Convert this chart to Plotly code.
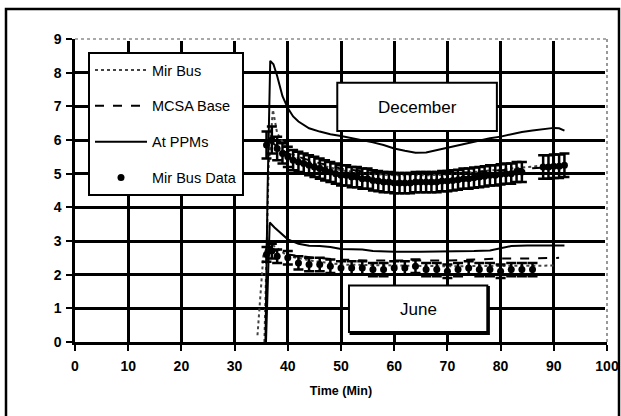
import plotly.graph_objects as go

# ---------------- data ----------------
# December
dec_ppm_x = [35.8, 36.2, 36.7, 37.3, 38.0, 39.0, 40.0, 41.0, 42.0, 44.0, 46.0, 48.0, 50.0, 52.0, 54.0, 56.0,
             58.0, 60.0, 62.0, 64.0, 66.0, 68.0, 70.0, 72.0, 74.0, 76.0, 78.0, 80.0, 82.0, 84.0, 86.0,
             88.0, 90.0, 91.0, 92.0]
dec_ppm_y = [0.0, 4.5, 8.35, 8.25, 7.9, 7.3, 6.95, 6.7, 6.55, 6.35, 6.25, 6.17, 6.12, 6.06, 6.0, 5.93,
             5.85, 5.75, 5.68, 5.62, 5.63, 5.7, 5.78, 5.85, 5.92, 6.0, 6.05, 6.1, 6.18, 6.24, 6.28,
             6.32, 6.36, 6.35, 6.28]

dec_mir_x = [35.6, 36.4, 37.2, 38.0, 40.0, 42.0, 45.0, 50.0, 55.0, 60.0, 65.0, 70.0, 75.0, 80.0, 85.0, 88.0, 92.0]
dec_mir_y = [0.0, 5.2, 6.9, 6.2, 5.7, 5.45, 5.3, 5.1, 5.0, 4.95, 4.95, 4.97, 5.05, 5.12, 5.2, 5.25, 5.3]

dec_mcsa_x = [36.5, 38.0, 40.0, 45.0, 50.0, 55.0, 60.0, 65.0, 70.0, 75.0, 80.0, 85.0, 88.0, 92.0]
dec_mcsa_y = [6.0, 5.8, 5.6, 5.35, 5.15, 5.05, 4.98, 4.98, 5.0, 5.05, 5.1, 5.15, 5.2, 5.22]

dec_data_x = [36, 37, 38, 39, 40, 41, 42, 43, 44, 45, 46, 47, 48, 49, 50, 51, 52, 53, 54, 55, 56, 57, 58, 59,
              60, 61, 62, 63, 64, 65, 66, 67, 68, 69, 70, 71, 72, 73, 74, 75, 76, 77, 78, 79, 80, 81, 82,
              83, 84, 88, 89, 90, 91, 92]
dec_data_y = [5.85, 6.0, 5.75, 5.6, 5.5, 5.4, 5.35, 5.3, 5.25, 5.2, 5.15, 5.1, 5.05, 5.0, 4.95, 4.95, 4.9,
              4.9, 4.85, 4.85, 4.8, 4.78, 4.75, 4.75, 4.72, 4.72, 4.72, 4.72, 4.75, 4.75, 4.75, 4.75, 4.75,
              4.78, 4.78, 4.8, 4.82, 4.85, 4.85, 4.88, 4.9, 4.92, 4.95, 4.95, 4.98, 5.0, 5.0, 5.05, 5.05,
              5.2, 5.2, 5.22, 5.22, 5.25]
dec_data_err = [0.4, 0.4, 0.35, 0.3, 0.3, 0.3, 0.3, 0.3, 0.3, 0.3, 0.3, 0.3, 0.3, 0.3, 0.3, 0.3, 0.3,
                0.3, 0.3, 0.3, 0.3, 0.3, 0.3, 0.3, 0.3, 0.3, 0.3, 0.3, 0.3, 0.3, 0.3, 0.3, 0.3,
                0.3, 0.3, 0.3, 0.3, 0.3, 0.3, 0.3, 0.3, 0.3, 0.3, 0.3, 0.3, 0.3, 0.3, 0.3, 0.3,
                0.35, 0.35, 0.35, 0.35, 0.35]

# June
jun_ppm_x = [35.9, 36.6, 37.5, 38.5, 40.0, 42.0, 44.0, 46.0, 48.0, 50.0, 52.0, 54.0, 56.0, 58.0, 60.0,
             65.0, 70.0, 75.0, 78.0, 80.0, 82.0, 85.0, 88.0, 92.0]
jun_ppm_y = [0.0, 3.55, 3.4, 3.25, 3.05, 2.92, 2.86, 2.85, 2.82, 2.76, 2.75, 2.75, 2.7, 2.68, 2.68,
             2.68, 2.68, 2.7, 2.72, 2.78, 2.85, 2.87, 2.87, 2.87]

jun_mir_x = [34.3, 35.4, 36.2, 37.0, 40.0, 45.0, 50.0, 55.0, 60.0, 65.0, 70.0, 75.0, 80.0, 85.0, 88.0, 90.0]
jun_mir_y = [0.2, 2.56, 2.85, 2.9, 2.55, 2.4, 2.3, 2.28, 2.28, 2.26, 2.25, 2.25, 2.25, 2.25, 2.25, 2.27]

jun_mcsa_x = [36.5, 38.0, 40.0, 45.0, 50.0, 55.0, 60.0, 65.0, 70.0, 75.0, 80.0, 85.0, 88.0, 91.0]
jun_mcsa_y = [2.75, 2.7, 2.6, 2.5, 2.45, 2.42, 2.42, 2.42, 2.42, 2.45, 2.48, 2.48, 2.5, 2.5]

jun_data_x = [36, 37, 38, 40, 42, 44, 46, 48, 50, 52, 54, 56, 58, 60, 62, 64, 66, 68, 70, 72, 74, 76,
              78, 80, 82, 84, 86]
jun_data_y = [2.6, 2.7, 2.55, 2.5, 2.35, 2.3, 2.3, 2.25, 2.2, 2.2, 2.2, 2.15, 2.15, 2.2, 2.2, 2.25,
              2.15, 2.15, 2.1, 2.15, 2.2, 2.15, 2.15, 2.1, 2.15, 2.15, 2.15]
jun_data_err = [0.22, 0.22, 0.2, 0.2, 0.2, 0.2, 0.2, 0.2, 0.2, 0.2, 0.2, 0.2, 0.2, 0.2,
                0.2, 0.2, 0.2, 0.2, 0.2, 0.2, 0.2, 0.2, 0.2, 0.2, 0.2, 0.2, 0.2]

x_ticks = [0, 10, 20, 30, 40, 50, 60, 70, 80, 90, 100]
y_ticks = [0, 1, 2, 3, 4, 5, 6, 7, 8, 9]

FONT = "Liberation Sans, Arial, sans-serif"

fig = go.Figure()

mir_line = dict(color="#444444", width=2, dash="dot")
mcsa_line = dict(color="black", width=2, dash="dash")
ppm_line = dict(color="black", width=2)

fig.add_trace(go.Scatter(x=dec_mir_x, y=dec_mir_y, mode="lines", line=mir_line, name="Mir Bus",
                         legendgroup="a", showlegend=True))
fig.add_trace(go.Scatter(x=jun_mir_x, y=jun_mir_y, mode="lines", line=mir_line, name="Mir Bus",
                         legendgroup="a", showlegend=False))
fig.add_trace(go.Scatter(x=dec_mcsa_x, y=dec_mcsa_y, mode="lines", line=mcsa_line, name="MCSA Base",
                         legendgroup="b", showlegend=True))
fig.add_trace(go.Scatter(x=jun_mcsa_x, y=jun_mcsa_y, mode="lines", line=mcsa_line, name="MCSA Base",
                         legendgroup="b", showlegend=False))
fig.add_trace(go.Scatter(x=dec_ppm_x, y=dec_ppm_y, mode="lines", line=ppm_line, name="At PPMs",
                         legendgroup="c", showlegend=True))
fig.add_trace(go.Scatter(x=jun_ppm_x, y=jun_ppm_y, mode="lines", line=ppm_line, name="At PPMs",
                         legendgroup="c", showlegend=False))

marker = dict(symbol="circle", size=7, color="black")
fig.add_trace(go.Scatter(x=dec_data_x, y=dec_data_y, mode="markers", marker=marker, name="Mir Bus Data",
                         error_y=dict(type="data", array=dec_data_err, color="black", thickness=2.5, width=5),
                         legendgroup="d", showlegend=True))
fig.add_trace(go.Scatter(x=jun_data_x, y=jun_data_y, mode="markers", marker=marker, name="Mir Bus Data",
                         error_y=dict(type="data", array=jun_data_err, color="black", thickness=2.5, width=5),
                         legendgroup="d", showlegend=False))

# plot geometry (px)
L, R, T, B = 75, 14, 39, 74
W, H = 621, 416
pw, ph = W - L - R, H - T - B


def px_x(p):
    return (p - L) / pw


def px_y(p):
    return (H - B - p) / ph


shapes = [
    # outer frame
    dict(type="rect", xref="paper", yref="paper", x0=px_x(6), x1=px_x(619), y0=px_y(420), y1=px_y(9),
         line=dict(color="black", width=2.5), layer="above"),
    # dotted top/right border of plot area
    dict(type="line", xref="paper", yref="paper", x0=0.005, x1=1, y0=1, y1=1,
         line=dict(color="white", width=4), layer="above"),
    dict(type="line", xref="paper", yref="paper", x0=1, x1=1, y0=0.005, y1=1,
         line=dict(color="white", width=4), layer="above"),
    dict(type="line", xref="paper", yref="paper", x0=0, x1=1, y0=1, y1=1,
         line=dict(color="#555555", width=1.2, dash="dot"), layer="above"),
    dict(type="line", xref="paper", yref="paper", x0=1, x1=1, y0=0, y1=1,
         line=dict(color="#555555", width=1.2, dash="dot"), layer="above"),
    # December label box
    dict(type="rect", xref="x", yref="y", x0=49.3, x1=79.3, y0=6.27, y1=7.7,
         line=dict(color="black", width=2), fillcolor="white", layer="above"),
    # June label box with shadow
    dict(type="rect", xref="x", yref="y", x0=51.8, x1=77.8, y0=0.24, y1=1.63,
         line=dict(color="black", width=2), fillcolor="white", layer="above"),
    dict(type="rect", xref="x", yref="y", x0=51.5, x1=77.5, y0=0.3, y1=1.68,
         line=dict(color="black", width=2), fillcolor="white", layer="above"),
]

annotations = [
    dict(x=64.3, y=6.98, xref="x", yref="y", text="December", showarrow=False,
         font=dict(family=FONT, size=17, color="black")),
    dict(x=64.5, y=0.98, xref="x", yref="y", text="June", showarrow=False,
         font=dict(family=FONT, size=17, color="black")),
]

fig.update_layout(
    width=W, height=H, autosize=False,
    margin=dict(l=L, r=R, t=T, b=B, autoexpand=False),
    paper_bgcolor="white", plot_bgcolor="white",
    font=dict(family=FONT, size=12, color="black"),
    showlegend=True,
    legend=dict(x=px_x(88), y=px_y(52), xanchor="left", yanchor="top",
                bgcolor="white", bordercolor="black", borderwidth=2,
                font=dict(family=FONT, size=14.5, color="black"),
                tracegroupgap=14, itemwidth=52),
    shapes=shapes,
    annotations=annotations,
)

fig.update_xaxes(range=[0, 100], tickvals=x_ticks, ticktext=["<b>%d</b>" % v for v in x_ticks],
                 showgrid=True, gridcolor="black", gridwidth=2.5,
                 showline=True, linecolor="black", linewidth=2.5,
                 ticks="outside", ticklen=6, tickwidth=2, tickcolor="black",
                 zeroline=False, ticklabelstandoff=3, automargin=False,
                 tickfont=dict(family=FONT, size=14, color="black"),
                 title=dict(text="<b>Time (Min)</b>", font=dict(family=FONT, size=12.5, color="black"),
                            standoff=14))
fig.update_yaxes(range=[0, 9], tickvals=y_ticks, ticktext=["<b>%d</b>" % v for v in y_ticks],
                 showgrid=True, gridcolor="black", gridwidth=2.5,
                 showline=True, linecolor="black", linewidth=2.5,
                 ticks="outside", ticklen=6, tickwidth=2, tickcolor="black",
                 zeroline=False, ticklabelstandoff=2, automargin=False,
                 tickfont=dict(family=FONT, size=14, color="black"))

fig.write_html("out.html")
